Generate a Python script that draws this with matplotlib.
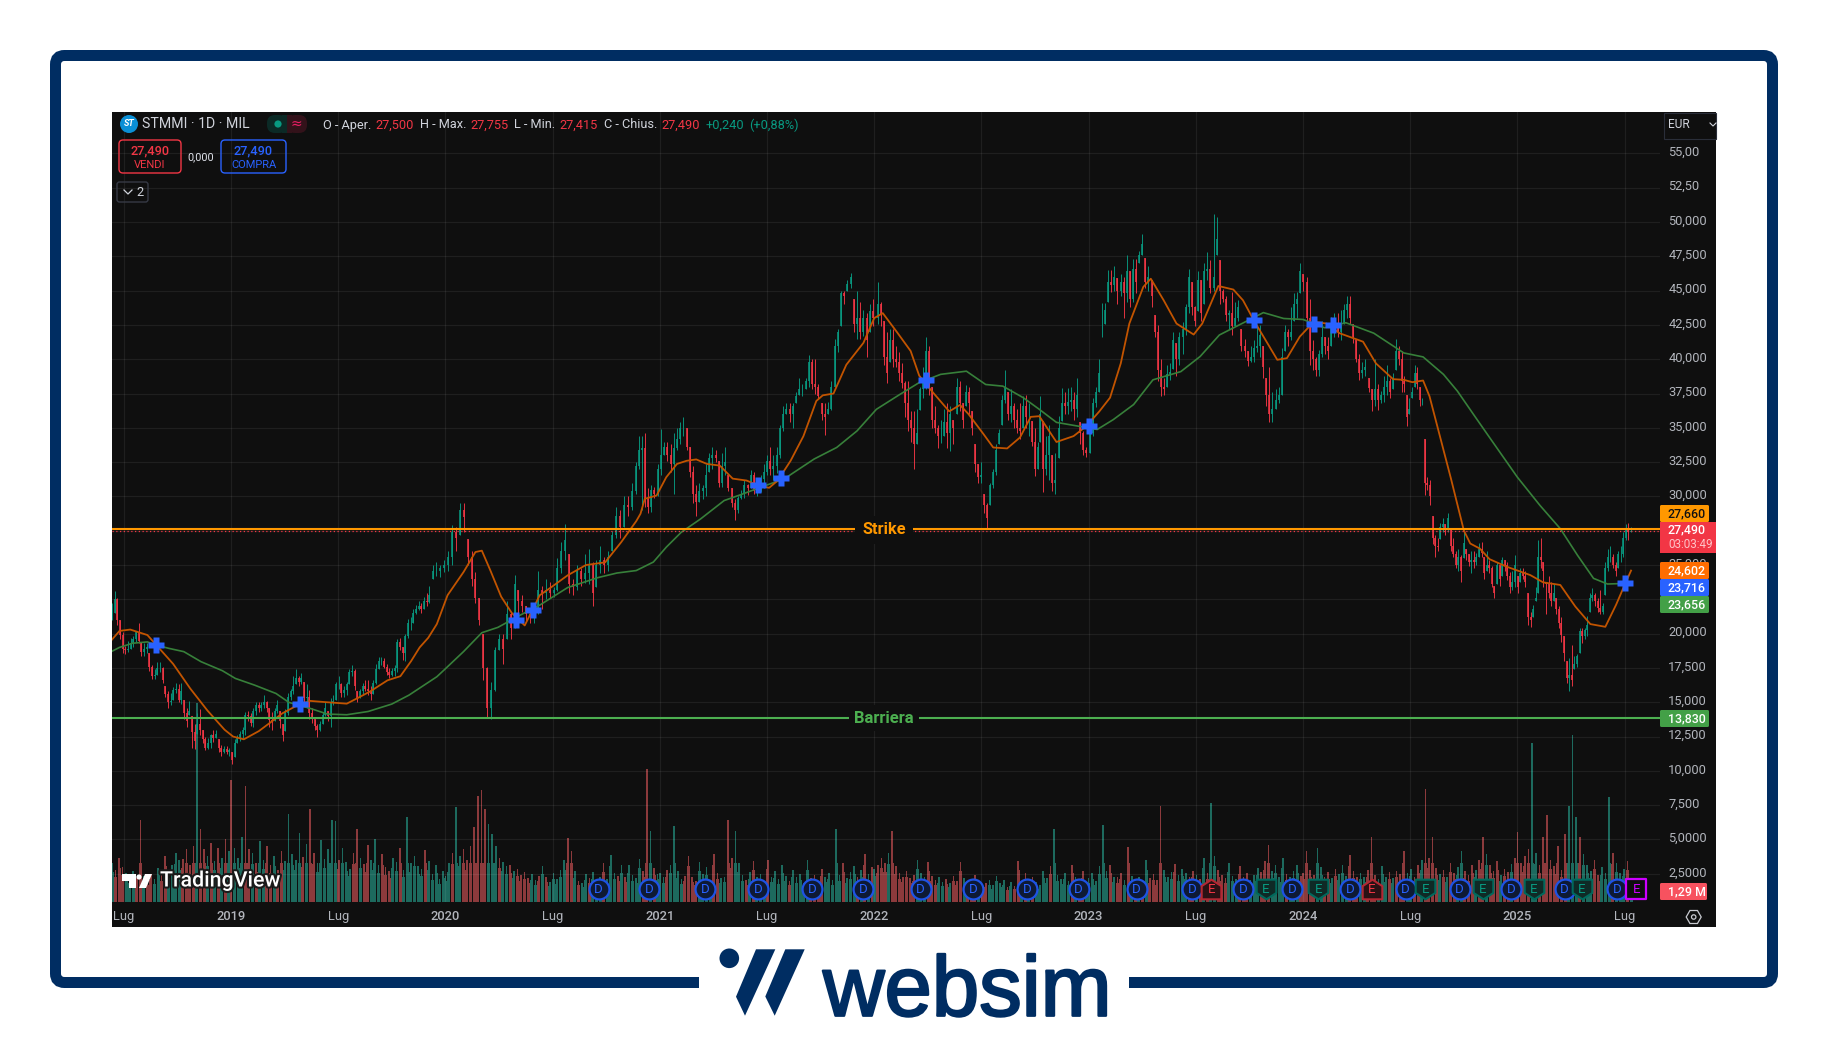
import numpy as np
import matplotlib
matplotlib.use("Agg")
import matplotlib.pyplot as plt
from matplotlib.patches import FancyBboxPatch, Rectangle, Polygon, Circle
from matplotlib.path import Path
from matplotlib.transforms import ScaledTranslation
import matplotlib.patheffects as pe

# ---------- price data: highs / lows / closes, by stretch of time ----------
span_a = (2018.445, 2019.925)
highs_a = [22.2,23.1,22.6,21.0,20.1,19.1,19.5,19.7,19.8,20.2,20.8,19.4,19.3,19.3,18.6,17.7,17.4,17.9,17.9,17.6,16.2,15.8,15.7,16.1,16.4,16.3,16.4,15.2,14.6,15.1,14.0,13.4,14.2,14.5,13.0,12.5,12.4,12.7,13.0,13.0,12.3,11.9,11.8,11.8,11.7,11.4,12.3,12.6,12.9,13.2,14.3,14.4,14.2,14.6,15.0,15.0,15.0,15.5,15.1,14.6,14.3,14.6,15.2,14.4,13.4,14.5,15.7,16.0,16.9,17.4,16.9,17.1,16.5,16.3,15.9,14.6,13.8,13.4,13.6,14.3,15.0,14.4,15.3,15.5,16.5,16.9,16.4,16.2,16.5,17.4,17.7,17.4,15.8,16.0,16.4,16.6,16.6,16.2,16.6,17.8,18.3,18.3,18.2,17.8,17.5,17.5,17.7,19.6,19.7,19.0,20.0,21.1,21.2,21.8,22.1,22.4,22.2,22.7,23.0,23.5]
lows_a = [21.0,21.5,20.6,19.6,18.6,18.5,18.7,18.9,19.0,19.4,19.3,18.4,18.4,18.6,17.3,16.7,16.7,17.0,17.2,16.4,15.4,14.6,14.8,15.2,15.7,15.0,14.9,13.8,13.2,14.1,11.7,11.6,12.7,12.6,12.0,11.5,11.6,11.7,12.1,12.4,11.4,11.1,11.3,11.2,11.1,10.5,11.0,12.0,12.2,12.3,12.6,13.6,13.3,13.2,14.1,14.3,14.4,14.6,14.3,13.2,13.0,13.6,14.2,13.1,12.2,12.9,14.1,15.2,15.6,16.3,16.2,16.3,15.0,14.6,13.8,13.5,13.0,12.5,12.9,13.4,14.0,13.6,13.2,14.8,15.2,16.0,15.4,15.4,15.5,16.3,16.9,15.9,15.0,15.3,15.6,15.8,15.5,15.2,15.6,16.3,17.4,17.7,17.5,17.0,16.8,16.9,16.9,17.2,18.8,18.1,18.0,19.7,20.3,20.8,21.4,21.7,21.5,21.8,22.0,22.2]
closes_a = [21.2,22.5,21.0,19.9,18.9,18.8,18.9,19.3,19.6,20.1,19.5,18.7,18.9,19.0,17.6,16.9,17.0,17.5,17.5,16.6,15.6,15.0,15.1,15.9,16.0,15.2,15.8,14.2,13.6,14.4,12.8,12.2,13.4,13.0,12.3,11.7,12.0,12.6,12.4,12.7,11.7,11.4,11.6,11.4,11.5,10.8,12.0,12.4,12.7,13.0,14.1,14.0,13.5,14.4,14.8,14.6,14.8,15.0,14.6,13.7,13.6,14.4,14.8,13.6,12.6,14.2,15.4,15.8,16.2,16.8,16.5,16.8,15.3,15.4,14.2,13.8,13.3,13.0,13.4,14.1,14.6,14.0,15.0,15.1,16.3,16.3,15.7,15.9,16.3,17.2,17.3,16.2,15.3,15.8,16.2,16.0,15.8,15.6,16.4,17.4,18.0,18.0,17.6,17.2,17.0,17.3,17.5,19.4,19.0,18.6,19.8,20.8,20.8,21.5,21.8,22.0,21.8,22.4,22.3,22.8]

span_b = (2019.94, 2020.905)
highs_b = [25.0,25.2,25.0,25.4,26.0,27.9,27.8,29.5,29.5,26.9,26.0,24.5,22.6,20.0,17.6,16.5,19.0,20.0,20.0,22.4,21.6,24.3,23.2,22.8,22.0,21.9,21.6,24.6,23.5,24.0,23.8,23.4,25.5,26.7,28.0,25.8,24.0,25.0,24.8,25.8,26.2,25.2,25.4,26.4,25.6,26.0,27.5,29.2,29.0,30.0,30.0,31.0,32.5,34.4]
lows_b = [24.0,24.2,24.1,24.5,24.6,25.0,26.0,27.2,27.4,25.0,23.5,22.2,20.6,16.6,13.9,13.8,15.8,18.8,17.8,19.6,19.6,20.4,20.8,21.6,20.9,20.8,20.8,21.4,21.8,22.5,22.6,22.7,23.1,24.4,25.4,23.0,22.8,23.2,23.5,23.7,23.6,22.0,23.4,24.4,24.4,24.6,26.0,27.0,27.0,27.8,28.6,29.0,30.2,32.0]
closes_b = [24.6,24.6,24.8,25.0,25.6,27.4,27.0,29.0,28.5,25.6,24.0,22.6,21.0,17.5,14.6,15.9,18.8,19.6,18.9,21.4,20.4,23.6,22.4,22.0,21.4,21.3,21.5,23.2,23.0,23.2,23.0,23.2,24.8,26.0,26.8,23.6,23.4,24.6,24.0,24.4,25.0,23.0,25.0,25.4,25.0,25.6,27.2,28.6,27.8,29.4,29.2,30.4,32.2,33.4]

span_c = (2020.915, 2021.995)
highs_c = [34.4,34.6,30.6,30.8,30.7,32.4,34.9,34.0,34.0,33.8,34.6,35.0,35.4,35.8,35.0,33.6,32.2,30.8,31.0,30.8,32.4,33.2,33.6,33.4,32.6,33.2,33.6,31.6,30.6,29.8,30.0,30.5,31.2,30.9,31.9,31.8,30.8,31.6,32.4,33.0,33.6,33.0,33.6,35.2,36.6,36.8,36.8,36.8,37.6,38.6,38.2,38.6,40.3,40.0,40.0,38.2,36.8,36.8,36.9,38.4,41.5,42.2,45.0,45.0,45.8,46.3,44.4,45.0,44.2,43.6,43.4,44.0,44.4]
lows_c = [29.0,29.2,28.8,28.9,29.9,30.0,31.6,33.0,32.6,31.8,30.2,33.4,33.8,34.4,33.4,31.4,29.5,28.6,29.6,29.8,30.0,31.8,32.0,32.5,30.7,30.7,31.6,30.4,29.2,28.3,28.8,29.8,29.9,30.1,30.6,30.2,30.0,30.3,30.6,31.6,31.6,31.2,31.7,32.8,34.8,36.0,35.4,35.0,36.8,37.4,37.3,37.8,38.0,37.8,37.5,37.1,35.6,34.5,36.0,36.3,38.0,40.5,42.4,44.0,45.0,45.2,42.0,41.5,41.5,41.7,40.2,42.0,42.4]
closes_c = [33.5,29.8,29.2,30.5,30.2,32.0,33.0,33.6,33.0,32.4,33.5,34.2,35.0,35.0,33.6,31.8,30.2,29.6,30.4,30.6,31.6,32.8,33.0,32.8,31.0,32.2,32.5,30.6,29.5,29.0,29.9,30.2,30.8,30.6,31.6,30.4,30.4,31.3,31.8,32.6,32.0,32.2,33.0,35.0,36.0,36.4,36.0,36.6,37.3,37.8,37.8,38.4,39.8,38.2,38.0,37.3,36.0,35.8,36.4,38.0,41.0,42.0,44.8,44.6,45.5,46.0,42.6,43.0,42.0,43.0,41.4,43.5,43.0]

span_d = (2022.016, 2022.766)
highs_d = [45.6,44.2,42.8,42.0,42.2,42.2,41.0,40.5,39.7,38.4,38.4,36.2,36.2,36.4,38.0,39.4,41.6,41.0,38.0,36.6,35.2,35.6,36.4,36.8,36.6,35.6,38.6,38.4,36.8,38.1,38.0,36.2,33.8,32.4,32.5,30.2,29.5,31.0,32.0,33.8,34.9,37.4,39.2,37.6,37.8,36.8,36.4,36.8,37.3,37.4,36.8,35.5,35.0,34.0]
lows_d = [42.6,42.4,39.6,38.3,39.8,39.4,39.4,38.4,37.9,35.8,34.8,34.0,32.0,33.8,36.3,37.2,37.8,37.4,35.0,34.6,33.5,33.9,34.4,33.5,33.3,33.8,36.0,36.2,35.0,36.6,36.0,34.5,31.8,31.0,31.0,28.8,27.6,29.4,30.6,31.6,33.8,35.2,36.8,35.6,35.4,35.0,34.6,34.2,35.0,35.0,34.4,33.7,31.5,32.0]
closes_d = [44.0,43.2,40.2,39.0,41.4,40.0,39.8,39.0,38.3,36.8,35.6,35.0,33.8,34.6,37.8,38.6,40.6,38.0,35.6,35.0,34.4,34.4,35.4,34.6,36.0,35.0,38.0,36.8,35.6,37.6,36.8,35.0,32.4,31.4,31.6,29.4,28.4,30.8,31.8,33.4,34.6,37.0,38.0,36.0,36.6,35.6,35.0,34.8,36.6,35.8,35.8,34.0,32.0,33.6]

span_e = (2022.773, 2024.45)
highs_e = [37.3,35.5,34.4,35.2,33.0,33.2,35.9,37.9,37.6,37.9,38.0,37.6,38.6,35.4,34.8,33.6,35.0,37.2,38.0,40.0,44.1,44.1,46.5,46.5,46.8,45.9,46.2,46.0,47.6,46.4,47.3,47.3,47.9,49.1,47.4,46.8,45.8,43.2,42.5,40.0,38.6,39.6,39.7,42.0,41.2,42.0,42.7,44.0,46.6,45.6,43.9,46.4,45.8,47.0,47.8,47.2,50.6,50.4,47.2,45.1,44.6,43.6,44.9,44.2,44.3,42.2,41.5,40.6,41.0,41.4,42.4,42.5,41.0,38.6,39.4,37.6,37.8,38.0,40.8,42.5,42.2,43.8,44.8,44.9,47.0,46.2,46.0,44.4,41.4,40.2,40.7,42.8,41.6,41.6,43.1,43.4,43.4,43.6,44.0,44.6,44.6,42.6,41.4,40.4,39.8,40.0,38.6,37.8,40.0,38.2,37.7,38.8,39.6,38.6,39.0,41.5,41.0]
lows_e = [34.0,30.3,31.6,31.2,30.4,30.2,32.8,35.5,36.0,36.0,36.2,35.6,35.8,33.8,33.0,32.9,33.2,34.4,36.5,37.6,41.6,42.6,44.2,44.9,45.0,44.0,44.6,43.0,44.2,43.8,44.2,44.8,47.0,47.6,45.2,45.0,43.8,41.6,38.4,37.3,37.4,38.0,38.5,39.3,38.8,39.6,40.4,41.8,43.4,43.2,42.4,43.5,42.8,44.0,45.8,44.8,45.0,47.6,44.0,44.2,42.8,42.2,41.8,42.4,42.8,40.6,40.2,39.5,39.8,39.8,40.5,40.2,38.6,36.6,35.4,35.4,36.4,36.8,37.4,40.6,41.0,41.4,42.8,43.0,44.8,45.0,42.4,39.6,39.2,38.8,38.8,40.2,40.4,40.0,41.0,41.6,41.6,41.4,42.6,43.0,42.6,41.2,39.8,38.5,38.6,38.8,37.6,36.2,36.6,36.3,36.8,36.9,37.4,37.2,37.8,39.2,39.6]
closes_e = [36.0,32.0,33.0,34.4,31.0,31.2,35.0,36.8,36.6,36.9,37.0,36.4,37.4,34.6,33.4,33.2,34.6,36.8,37.6,39.0,41.6,43.6,45.6,45.4,46.0,45.0,45.6,44.8,46.4,44.4,46.6,45.6,47.6,48.4,45.6,46.0,44.6,42.0,39.2,38.0,37.8,38.9,39.1,41.4,40.0,41.6,42.2,43.8,46.0,43.8,42.8,45.8,43.4,46.4,46.6,45.2,46.0,48.8,45.0,44.4,43.2,43.4,42.4,43.0,43.8,41.0,40.6,39.9,40.2,40.8,41.0,41.8,39.4,37.4,36.0,36.4,37.0,37.4,40.2,42.0,41.6,42.0,44.0,44.4,46.4,45.6,43.0,40.6,40.0,39.2,40.4,41.6,41.0,40.6,42.4,42.6,42.0,42.6,43.6,44.0,43.0,41.6,40.0,39.0,39.2,39.4,37.9,37.0,37.8,37.0,37.4,38.0,38.4,37.6,38.6,40.6,40.0]

span_f = (2024.46, 2025.53)
highs_f = [40.6,38.8,37.4,37.2,38.0,39.6,39.4,38.0,37.2,34.2,31.4,31.2,28.6,27.2,27.0,28.1,28.4,28.0,28.8,27.6,27.0,26.0,26.2,25.7,27.4,26.2,25.8,26.0,26.0,25.9,26.6,26.7,25.6,26.0,25.4,24.9,23.5,25.2,25.0,25.6,25.4,25.2,24.5,24.6,25.7,24.2,24.8,24.8,24.6,23.0,21.6,22.1,23.4,26.8,27.0,25.2,23.8,24.2,23.8,23.6,22.6,22.0,21.2,19.8,18.0,18.2,19.2,18.4,18.5,20.4,20.4,20.4,21.3,23.0,23.3,23.0,22.6,23.2,22.2,25.2,26.2,26.4,25.8,25.2,26.0,26.4,27.4,28.0,28.1,27.755]
lows_f = [37.6,37.6,35.1,36.0,37.2,38.0,37.8,36.6,36.7,30.1,30.5,29.4,26.5,25.6,26.0,26.9,27.4,27.2,27.4,26.0,25.6,24.8,24.6,23.8,25.5,25.4,24.9,24.4,24.8,25.0,25.6,25.6,24.0,24.6,24.4,23.4,22.6,23.6,23.5,24.2,24.6,23.9,23.0,23.2,23.4,23.0,23.8,24.0,23.4,20.6,20.5,21.2,22.4,23.0,24.8,23.4,21.4,22.6,22.0,22.4,21.4,20.4,19.4,18.0,16.4,15.8,16.2,17.4,17.6,18.6,19.3,19.6,19.8,21.6,22.4,22.0,21.6,21.4,21.4,22.8,24.6,25.2,24.8,24.2,24.8,25.2,25.6,26.8,26.8,27.415]
closes_f = [38.4,38.2,35.8,36.4,37.6,39.0,38.2,37.0,37.0,31.0,30.8,30.0,27.0,26.4,26.3,27.8,28.0,27.6,28.4,26.4,25.8,25.0,25.6,24.6,26.6,25.8,25.2,25.4,25.2,25.6,26.2,25.9,24.4,25.0,24.8,23.6,23.0,25.0,24.0,25.4,25.0,24.2,23.4,23.8,25.0,23.4,24.4,24.2,23.8,21.2,21.0,21.8,22.6,25.6,25.4,24.6,23.6,23.0,22.4,23.0,21.8,20.8,19.9,18.6,16.8,17.0,16.6,17.8,18.4,20.2,19.8,20.3,20.6,22.6,22.8,22.4,21.9,21.6,22.0,24.8,25.6,25.6,25.0,24.6,25.8,25.8,27.0,27.6,27.4,27.49]

# ---------- moving averages ----------
fast_years = [2018.43,2018.48,2018.53,2018.61,2018.65,2018.73,2018.81,2018.89,2018.97,2019.01,2019.06,2019.13,2019.19,2019.24,2019.30,2019.37,2019.45,2019.54,2019.59,2019.65,2019.73,2019.79,2019.84,2019.88,2019.92,2019.96,2020.01,2020.085,2020.14,2020.17,2020.21,2020.26,2020.31,2020.37,2020.44,2020.495,2020.57,2020.655,2020.745,2020.82,2020.89,2020.91,2020.93,2020.985,2021.03,2021.08,2021.125,2021.17,2021.22,2021.28,2021.34,2021.405,2021.46,2021.51,2021.55,2021.61,2021.67,2021.73,2021.76,2021.81,2021.87,2021.95,2022.0,2022.04,2022.105,2022.17,2022.21,2022.275,2022.35,2022.40,2022.44,2022.51,2022.555,2022.62,2022.68,2022.73,2022.77,2022.85,2022.93,2022.99,2023.05,2023.10,2023.15,2023.19,2023.255,2023.29,2023.35,2023.41,2023.49,2023.53,2023.605,2023.675,2023.72,2023.77,2023.88,2023.925,2023.985,2024.05,2024.11,2024.17,2024.28,2024.34,2024.42,2024.47,2024.51,2024.56,2024.59,2024.65,2024.69,2024.75,2024.78,2024.825,2024.87,2024.95,2025.06,2025.12,2025.20,2025.27,2025.34,2025.41,2025.46,2025.50,2025.53]
fast_prices = [19.3,20.2,20.3,19.9,19.2,17.8,16.0,14.4,13.0,12.5,12.3,12.9,13.6,14.2,14.7,15.1,15.0,14.9,15.3,15.8,16.6,16.9,18.0,19.0,19.7,20.7,22.8,24.5,25.95,26.05,24.6,22.7,21.5,20.6,22.8,23.4,24.25,25.0,25.2,26.67,28.2,28.74,29.83,30.07,31.4,32.37,32.6,32.7,32.37,32.25,31.3,31.16,30.8,30.63,31.16,32.6,34.4,36.96,37.37,37.5,39.6,41.2,43.0,43.36,42.0,40.6,38.8,37.56,36.2,36.67,36.0,34.54,33.57,33.5,34.3,35.8,35.85,33.97,34.4,35.13,36.2,37.2,39.7,42.6,45.27,45.87,44.3,42.6,41.8,42.6,45.34,45.08,44.3,42.85,39.96,40.08,41.65,42.73,42.6,41.9,41.28,39.7,38.55,38.5,38.33,38.45,37.3,33.7,31.3,27.53,26.57,26.2,25.43,24.88,24.27,23.74,23.55,21.98,20.7,20.5,22.1,23.55,24.6]

slow_years = [2018.43,2018.48,2018.54,2018.61,2018.65,2018.71,2018.78,2018.86,2018.96,2019.02,2019.11,2019.21,2019.27,2019.37,2019.45,2019.54,2019.64,2019.75,2019.83,2019.96,2019.995,2020.085,2020.17,2020.245,2020.35,2020.44,2020.57,2020.71,2020.80,2020.89,2020.97,2021.03,2021.10,2021.19,2021.30,2021.39,2021.47,2021.58,2021.72,2021.825,2021.92,2022.01,2022.12,2022.21,2022.31,2022.43,2022.52,2022.60,2022.695,2022.77,2022.85,2022.96,2023.04,2023.115,2023.21,2023.30,2023.43,2023.52,2023.61,2023.74,2023.815,2023.91,2024.0,2024.10,2024.20,2024.33,2024.47,2024.56,2024.655,2024.72,2024.80,2024.87,2025.0,2025.105,2025.20,2025.28,2025.355,2025.42,2025.495]
slow_prices = [18.6,19.0,19.3,19.4,19.17,18.93,18.69,17.96,17.3,16.74,16.25,15.64,14.99,14.55,14.14,14.09,14.33,14.87,15.52,16.86,17.37,18.7,20.07,20.46,21.36,22.08,23.36,24.08,24.42,24.6,25.22,26.3,27.39,28.36,29.7,30.2,30.67,31.28,32.73,33.57,34.78,36.35,37.44,38.3,38.9,39.13,38.16,38.04,37.2,36.35,35.4,35.1,34.88,35.6,36.7,38.5,39.1,40.2,41.77,42.8,43.4,42.97,42.9,42.3,42.66,41.9,40.46,40.17,38.9,37.68,35.87,34.3,31.4,29.35,27.65,25.72,24.03,23.62,23.656]

cross_years = [2018.65,2019.32,2020.33,2020.41,2021.46,2021.565,2022.24,2023.0,2023.77,2024.05,2024.14,2025.50]
cross_prices = [19.15,14.9,20.99,21.76,30.8,31.33,38.5,35.1,42.85,42.56,42.5,23.716]

# ---------- volume (millions) ----------
vol_span_2018 = (2018.445, 2018.99)
vol_2018 = [4.6,3.8,5.2,4.1,3.4,2.9,3.6,2.8,9.6,3.1,2.6,3.3,2.7,4.0,3.2,5.4,3.6,4.3,5.8,4.9,5.1,6.2,4.4,6.6,23.4,8.6,6.2,5.4,7.0,4.8,6.3,5.2,7.4,6.0]
vol_2019 = [14.3,6.4,5.2,7.6,13.7,6.2,5.8,4.6,7.2,5.0,6.6,4.4,5.4,3.8,6.0,4.8,10.4,5.6,4.9,8.1,5.3,6.8,11.0,5.8,4.6,7.3,5.1,6.2,9.7,9.5,5.0,6.4,4.7,3.9,5.8,8.6,5.2,4.5,6.7,4.9,7.4,4.4,5.6,4.1,3.6,5.2,4.7,6.3,3.8,10.0,4.6,5.4,4.2,3.9,6.1,4.8,3.3,4.4,2.7,3.6]
vol_2020 = [3.1,4.6,5.8,11.2,5.4,6.2,4.9,6.6,8.8,12.5,13.2,11.0,9.2,8.0,6.6,5.2,4.7,4.2,4.4,3.6,3.9,3.2,3.5,2.8,3.3,2.6,3.1,4.2,3.0,2.4,3.4,2.7,3.8,4.9,7.5,6.0,3.6,2.5,2.2,3.3,2.8,3.5,2.4,3.0,4.6,2.7,5.5,3.4,3.1,4.3,3.0,4.4,3.2,2.8,5.1,3.7,15.7,8.4,4.0,3.3]
vol_2021 = [3.4,2.9,3.8,4.4,9.0,3.6,2.7,3.1,5.4,3.0,2.5,4.7,3.3,4.1,2.6,5.6,3.4,2.8,3.0,9.6,5.2,8.4,4.6,3.2,2.6,3.5,4.8,2.9,3.3,2.4,5.0,3.0,3.6,2.7,4.4,3.1,2.5,3.8,2.9,3.3,2.2,4.9,2.8,3.2,2.5,3.9,3.0,3.4,2.6,8.6,3.2,4.6,2.8,3.5,4.2,2.9,3.8,5.6,3.3,4.1]
vol_2022 = [3.9,4.4,5.2,4.6,5.8,8.4,4.2,3.4,3.0,3.7,2.8,3.2,5.0,3.4,2.9,4.7,3.1,2.6,2.9,2.4,2.7,2.2,3.1,2.5,4.7,2.8,2.3,2.1,3.2,2.4,1.9,2.2,2.6,2.0,3.1,2.2,2.6,1.8,2.4,1.9,4.8,2.5,3.4,2.2,2.9,2.4,2.0,3.6,2.8,4.2,8.6,3.2,2.7,3.4,2.5,4.3,3.0,2.6,3.6,2.4]
vol_2023 = [2.8,3.4,2.5,4.2,9.1,3.6,4.4,3.0,2.9,3.4,2.6,6.5,3.1,2.6,3.0,2.4,4.9,2.8,3.3,2.6,11.3,3.8,3.0,3.5,4.5,3.2,3.9,3.4,2.9,3.7,3.2,2.7,5.2,3.4,11.6,5.4,3.8,3.2,2.8,4.6,3.1,2.7,4.2,3.0,3.4,2.6,3.2,4.0,3.5,4.8,6.7,3.6,4.3,3.0,5.2,3.3,2.9,3.6,4.4,3.1]
vol_2024 = [3.4,6.0,3.8,3.2,6.3,4.1,3.0,3.5,2.8,3.9,3.3,4.4,3.1,5.5,3.6,2.9,3.4,3.0,3.8,7.6,3.2,2.7,4.2,3.0,3.5,2.8,3.7,3.3,6.0,3.4,3.9,3.0,4.4,4.9,13.3,5.2,7.7,4.0,3.3,3.8,3.0,4.6,3.4,4.1,6.0,3.6,3.2,4.4,3.8,5.0,7.6,5.6,4.3,3.6,4.8,3.2,3.9,3.5,4.5,5.2]
vol_span_2025 = (2025.0, 2025.53)
vol_2025 = [8.2,4.6,5.4,6.2,18.7,5.8,4.4,7.6,10.2,5.0,4.2,6.6,3.8,8.0,11.3,19.7,10.0,7.7,5.6,4.4,3.6,5.0,3.2,4.1,3.4,12.4,5.8,4.6,3.4,3.9,4.8,1.29]

# ---------- events ----------
dividend_years = [2020.715,2020.95,2021.21,2021.457,2021.71,2021.95,2022.217,2022.463,2022.714,2022.953,2023.224,2023.484,2023.719,2023.948,2024.218,2024.478,2024.731,2024.97,2025.22,2025.466]
earn_beat_years = [2023.826,2024.071,2024.57,2024.84,2025.076,2025.30]
earn_miss_years = [2023.572,2024.32]
earn_next_years = [2025.554]
event_price = 1.37

strike_price = 27.66
barrier_price = 13.83
last_price = 27.49

price_ticks = [55,52.5,50,47.5,45,42.5,40,37.5,35,32.5,30,27.5,25,22.5,20,17.5,15,12.5,10,7.5,5,2.5]
price_labels = ["55,00","52,50","50,000","47,500","45,000","42,500","40,000","37,500","35,000","32,500","30,000","","25,000","","20,000","17,500","15,000","12,500","10,000","7,500","5,0000","2,5000"]
time_ticks = [2018.5,2019,2019.5,2020,2020.5,2021,2021.5,2022,2022.5,2023,2023.5,2024,2024.5,2025,2025.5]
time_labels = ["Lug","2019","Lug","2020","Lug","2021","Lug","2022","Lug","2023","Lug","2024","Lug","2025","Lug"]

# ---------- colours ----------
PANEL = "#0f0f0f"
UP, DOWN = "#089981", "#f23645"
NAVY = "#002d62"
LABEL = "#b2b5bc"
FONT = "Roboto"
plt.rcParams["font.family"] = [FONT, "DejaVu Sans"]

W, H = 1828, 1039
fig = plt.figure(figsize=(W/100, H/100), dpi=100, facecolor="white")

def overlay(z, name):
    a = fig.add_axes([0, 0, 1, 1], label=name, zorder=z)
    a.set_xlim(0, W); a.set_ylim(H, 0); a.axis("off")
    return a

bg = overlay(0, "bg")
bg.add_patch(FancyBboxPatch((55.5, 55.5), 1717, 927, boxstyle="round,pad=0,rounding_size=9",
                            fc="white", ec=NAVY, lw=11*0.72))
bg.add_patch(Rectangle((699, 970), 430, 30, fc="white", ec="none"))
bg.add_patch(Rectangle((112, 112), 1604, 815, fc=PANEL, ec="none"))

# websim logo
bg.add_patch(Circle((729.3, 958.3), 9.8, fc=NAVY, ec="none"))
bg.add_patch(Polygon([(756, 949.3), (775.3, 949.3), (745, 1015.7), (736, 996.7)], fc=NAVY, ec="none"))
bg.add_patch(Polygon([(785.3, 949.3), (804.7, 949.3), (774.7, 1015.7), (765.3, 996.5)], fc=NAVY, ec="none"))
bg.text(823, 1015.7, "websim", color=NAVY, fontsize=61.3, family="Liberation Sans", va="baseline", ha="left",
        path_effects=[pe.withStroke(linewidth=1.7, foreground=NAVY)])

# ---------- axes ----------
rect = [112/W, 1-902/H, (1660-112)/W, (902-112)/H]
xlim = (2018.445, 2025.665)

axv = fig.add_axes(rect, label="volume", zorder=1)
axv.set_facecolor(PANEL)
axv.set_xlim(*xlim); axv.set_ylim(0, 790/8.5)
axv.axis("off")

ax = fig.add_axes(rect, label="price", zorder=2)
ax.patch.set_alpha(0)
ax.set_xlim(*xlim); ax.set_ylim(0.444, 58.02)
for s in ax.spines.values():
    s.set_visible(False)
ax.yaxis.tick_right()
ax.set_yticks(price_ticks); ax.set_yticklabels(price_labels)
ax.set_xticks(time_ticks); ax.set_xticklabels(time_labels)
ax.tick_params(axis="both", length=0, colors=LABEL, labelsize=9.3)
ax.tick_params(axis="y", pad=6)
ax.tick_params(axis="x", pad=6)
for t, s in zip(ax.get_xticklabels(), time_labels):
    if s != "Lug":
        t.set_fontweight("medium")
lift = ScaledTranslation(0, 2.5/100, fig.dpi_scale_trans)
for t in ax.get_yticklabels():
    t.set_transform(t.get_transform() + lift)
ax.grid(True, color="white", alpha=0.07, lw=0.9)
ax.set_axisbelow(True)

# ---------- candles ----------
segments = [(span_a, highs_a, lows_a, closes_a), (span_b, highs_b, lows_b, closes_b),
            (span_c, highs_c, lows_c, closes_c), (span_d, highs_d, lows_d, closes_d),
            (span_e, highs_e, lows_e, closes_e), (span_f, highs_f, lows_f, closes_f)]
xs, hs, ls, cs = [], [], [], []
for span, h, l, c in segments:
    n = min(len(h), len(l), len(c))
    xs.append(np.linspace(span[0], span[1], n))
    hs.append(h[:n]); ls.append(l[:n]); cs.append(c[:n])
xs = np.concatenate(xs); hs = np.concatenate(hs); ls = np.concatenate(ls); cs = np.concatenate(cs)
opens = np.r_[cs[0], cs[:-1]]
opens = np.minimum(np.maximum(opens, ls), hs)
is_up = cs >= opens
colors = np.where(is_up, UP, DOWN)
ax.vlines(xs, ls, hs, colors=colors, lw=0.65, zorder=3)
ax.vlines(xs, np.minimum(opens, cs), np.maximum(opens, cs), colors=colors, lw=1.15, zorder=3)

ax.plot(slow_years, slow_prices, color="#37803a", lw=1.2, zorder=4, solid_joinstyle="round")
ax.plot(fast_years, fast_prices, color="#c25400", lw=1.3, zorder=4, solid_joinstyle="round")
ax.plot(cross_years, cross_prices, ls="none", marker="P", ms=11.2, mfc="#2962ff", mec="none", zorder=6)

# ---------- levels ----------
ax.axhline(strike_price, color="#ff9800", lw=1.5, zorder=5)
ax.axhline(last_price, color=DOWN, lw=0.9, ls=(0, (1, 2)), zorder=5)
ax.axhline(barrier_price, color="#4caf50", lw=1.5, zorder=5)
ax.text(2022.046, 27.56, "Strike", color="#ff9800", fontsize=11.8, weight="bold", ha="center", va="center", zorder=7,
        bbox=dict(fc=PANEL, ec="none", pad=5))
ax.text(2022.046, barrier_price, "Barriera", color="#4caf50", fontsize=12, weight="bold", ha="center", va="center", zorder=7,
        bbox=dict(fc=PANEL, ec="none", pad=4))

# ---------- volumes ----------
vol_chunks = [(vol_span_2018, vol_2018), ((2019.0, 2019.99), vol_2019), ((2020.0, 2020.99), vol_2020),
              ((2021.0, 2021.99), vol_2021), ((2022.0, 2022.99), vol_2022), ((2023.0, 2023.99), vol_2023),
              ((2024.0, 2024.99), vol_2024), (vol_span_2025, vol_2025)]
vx = np.concatenate([np.linspace(s[0], s[1], len(v)) for s, v in vol_chunks])
vy = np.concatenate([v for _, v in vol_chunks])
nearest = np.clip(np.searchsorted(xs, vx), 0, len(xs)-1)
vcol = np.where(is_up[nearest], "#1d6a5e", "#8c3a3c")
axv.bar(vx, np.minimum(vy*0.78, 4.6), width=0.014, color=vcol, lw=0)
axv.bar(vx, vy, width=0.0075, color=vcol, lw=0)

# ---------- event badges ----------
house_up = Path([(-1, 1), (1, 1), (1, -0.35), (0, -1), (-1, -0.35), (-1, 1)], closed=True)
house_dn = Path([(-1, -1), (1, -1), (1, 0.35), (0, 1), (-1, 0.35), (-1, -1)], closed=True)
ev = lambda x: [event_price]*len(x)
ax.scatter(dividend_years, ev(dividend_years), s=205, marker="o", fc="#0e1a35", ec="#1e53e5", lw=1.6, zorder=8)
ax.scatter(earn_beat_years, ev(earn_beat_years), s=200, marker=house_up, fc="#0f2a26", ec="#00695c", lw=1.5, zorder=8)
ax.scatter(earn_miss_years, ev(earn_miss_years), s=200, marker=house_dn, fc="#2a1114", ec="#b22833", lw=1.5, zorder=8)
ax.scatter(earn_next_years, ev(earn_next_years), s=190, marker="s", fc=PANEL, ec="#cc00ff", lw=1.6, zorder=8)
for yrs, ch, col in [(dividend_years, "D", "#2962ff"), (earn_beat_years, "E", UP), (earn_miss_years, "E", DOWN), (earn_next_years, "E", "#cc00ff")]:
    for y in yrs:
        ax.text(y, event_price, ch, color=col, fontsize=9.5, ha="center", va="center", zorder=9)

# ---------- overlay furniture ----------
fg = overlay(10, "fg")

def tag(y0, y1, txt, fc, col="white", x1=1709, size=8.9):
    fg.add_patch(FancyBboxPatch((1660, y0), x1-1660, y1-y0, boxstyle="round,pad=0,rounding_size=1.5", fc=fc, ec="none"))
    fg.text(1668, (y0+y1)/2, txt, color=col, fontsize=size, weight="medium", va="center", ha="left")

tag(505, 522, "27,660", "#ff9800", "#111111")
fg.add_patch(Rectangle((1660, 522), 56, 31, fc=DOWN, ec="none"))
fg.text(1668, 530, "27,490", color="white", fontsize=8.9, weight="medium", va="center")
fg.text(1668, 544, "03:03:49", color="#ffc4c8", fontsize=8.4, va="center")
tag(562, 579, "24,602", "#ff6d00")
tag(579, 596, "23,716", "#2962ff")
tag(596, 613, "23,656", "#43a047")
tag(710, 727, "13,830", "#43a047")
tag(883, 900, "1,29 M", "#f7525f", x1=1707)

# settings icon
a_hex = np.deg2rad(np.arange(0, 360, 60))
fg.add_patch(Polygon(np.c_[1693.7+7.5*np.cos(a_hex), 917+7.5*np.sin(a_hex)], fc="none", ec="#c8cad0", lw=0.9))
fg.add_patch(Circle((1693.7, 917), 2.2, fc="none", ec="#c8cad0", lw=0.9))

# header
fg.add_patch(Circle((129, 124), 9, fc="#0a8fd6", ec="none"))
fg.text(129, 124, "ST", color="white", fontsize=6.5, weight="bold", style="italic", ha="center", va="center")
fg.text(142, 124.5, "STMMI · 1D · MIL", color="#d1d4dc", fontsize=10.2, va="center")
fg.add_patch(FancyBboxPatch((267, 115), 20, 18, boxstyle="round,pad=0,rounding_size=8", fc="#0b2a26", ec="none"))
fg.add_patch(FancyBboxPatch((287, 115), 20, 18, boxstyle="round,pad=0,rounding_size=8", fc="#33121a", ec="none"))
fg.add_patch(Rectangle((282, 115), 5, 18, fc="#0b2a26", ec="none"))
fg.add_patch(Rectangle((287, 115), 5, 18, fc="#33121a", ec="none"))
fg.add_patch(Circle((278, 124), 3.6, fc=UP, ec="none"))
fg.text(296, 124, "≈", color="#e91e63", fontsize=10, ha="center", va="center", family="DejaVu Sans")

head = [(323, "O - Aper.", "#d1d4dc"), (375.5, "27,500", DOWN), (420, "H - Max.", "#d1d4dc"), (470, "27,755", DOWN),
        (514, "L - Min.", "#d1d4dc"), (559, "27,415", DOWN), (603.6, "C - Chius.", "#d1d4dc"), (661, "27,490", DOWN),
        (705.6, "+0,240", UP), (749, "(+0,88%)", UP)]
for x, s, c in head:
    fg.text(x, 125, s, color=c, fontsize=9.2, va="center")

fg.add_patch(FancyBboxPatch((119, 140), 62, 33, boxstyle="round,pad=0,rounding_size=4", fc="none", ec=DOWN, lw=1))
fg.text(150, 150.5, "27,490", color=DOWN, fontsize=9.2, weight="medium", ha="center", va="center")
fg.text(150, 165, "VENDI", color=DOWN, fontsize=8, ha="center", va="center")
fg.text(200.5, 157.5, "0,000", color="#e0e3eb", fontsize=7.8, ha="center", va="center")
fg.add_patch(FancyBboxPatch((221, 140), 65, 33, boxstyle="round,pad=0,rounding_size=4", fc="none", ec="#2962ff", lw=1))
fg.text(253.5, 150.5, "27,490", color="#2962ff", fontsize=9.2, weight="medium", ha="center", va="center")
fg.text(253.5, 165, "COMPRA", color="#2962ff", fontsize=8, ha="center", va="center")
fg.add_patch(FancyBboxPatch((117, 182), 31, 20, boxstyle="round,pad=0,rounding_size=2.5", fc="none", ec="#363a45", lw=1))
fg.plot([124, 128, 132], [190, 194, 190], color="#d1d4dc", lw=0.9)
fg.text(140, 192, "2", color="#d1d4dc", fontsize=9.2, ha="center", va="center")

fg.add_patch(Rectangle((1664, 113), 52, 26, fc="#0f0f0f", ec="#2a2e39", lw=0.8))
fg.text(1668, 125, "EUR", color="#d1d4dc", fontsize=8.6, va="center")
fg.plot([1710, 1713, 1716], [123, 126, 123], color="#d1d4dc", lw=0.8)

# TradingView watermark
halo = [pe.withStroke(linewidth=3, foreground="#1a1a1a")]
fg.add_patch(Polygon([(122, 874), (136, 874), (136, 888), (129, 888), (129, 881), (122, 881)], fc="white", ec="none"))
fg.add_patch(Circle((139, 877), 2.6, fc="white", ec="none"))
fg.add_patch(Polygon([(145, 874), (152, 874), (146, 888), (139, 888)], fc="white", ec="none"))
fg.text(160, 881, "TradingView", color="white", fontsize=15.4, weight="medium", va="center", path_effects=halo)

fig.savefig("out.png", dpi=100, facecolor="white")
